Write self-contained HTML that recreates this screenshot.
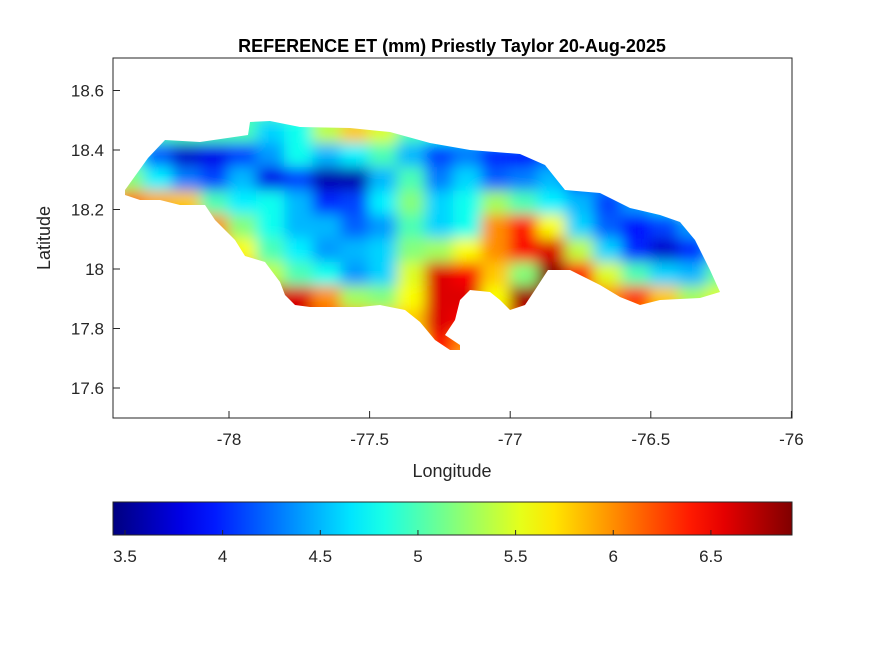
<!DOCTYPE html>
<html><head><meta charset="utf-8"><style>
body{margin:0;background:#fff;}
svg{display:block;font-family:"Liberation Sans",sans-serif;}
</style></head><body>
<svg id="chart" width="875" height="656" viewBox="0 0 875 656">
<defs>
<clipPath id="island"><polygon id="islandPoly" points="125,190 148,158 165,140 200,142 248,135 250,122 270,121 300,127 350,128 390,132 430,143 470,150 520,154 545,165 565,190 600,193 630,208 660,215 680,222 695,240 710,270 720,292 700,298 660,300 640,305 620,297 600,285 570,270 548,270 535,290 525,305 510,310 500,300 490,292 470,290 460,300 455,320 445,335 460,345 460,350 450,350 435,340 420,322 405,310 380,305 360,307 310,307 295,305 285,295 280,282 265,262 245,256 235,240 215,220 205,205 180,205 160,200 140,200 125,195"/></clipPath>
<filter id="blur" x="-10%" y="-10%" width="120%" height="120%"><feGaussianBlur stdDeviation="7"/></filter>
<linearGradient id="jet" x1="0" x2="1" y1="0" y2="0"></linearGradient>
</defs>
<rect x="0" y="0" width="875" height="656" fill="#fff"/>
<text x="452" y="52" text-anchor="middle" font-size="18" font-weight="bold" fill="#000">REFERENCE ET (mm) Priestly Taylor 20-Aug-2025</text>
<g clip-path="url(#island)"><g id="cells" filter="url(#blur)"></g></g>
<rect x="113" y="58" width="679" height="360" fill="none" stroke="#262626" stroke-width="1"/>
<g id="axes"></g>
<text x="452" y="477" text-anchor="middle" font-size="18" fill="#262626">Longitude</text>
<text transform="translate(50,238) rotate(-90)" text-anchor="middle" font-size="18" fill="#262626">Latitude</text>
<rect x="113" y="502" width="679" height="33" fill="url(#jet)" stroke="#262626" stroke-width="1"/>
<g id="cbaxis"></g>
</svg>
<script>
const lonTicks=[-78,-77.5,-77,-76.5,-76];
const latTicks=[18.6,18.4,18.2,18,17.8,17.6];
const cbTicks=[3.5,4,4.5,5,5.5,6,6.5];
const gridLon0=-78.4, gridLonStep=0.1;
const gridLat0=18.54, gridLatStep=-0.08;
const row0=[5,5,5,5,5,5,5,5,5,5,5,5,5,5,5,5,5,5,5,5,5,5];
const row1=[5,5,5,5,5,4.6,4.8,5.4,5.8,5.5,5,4.8,4.6,4.6,4.8,5,5,5,5,5,5,5];
const row2=[4.8,4.2,3.7,3.8,4.1,4.4,4.8,4.5,4.7,5.0,4.5,4.1,4.3,4.0,3.9,4.2,4.5,5,5,5,5,5];
const row3=[5.2,4.7,4.3,4.1,4.5,3.8,4.1,3.6,3.6,4.5,5.0,4.3,4.6,4.2,4.3,4.5,4.1,4.4,4.7,5,5,5];
const row4=[6.1,5.9,5.8,5.0,4.7,4.8,4.5,4.0,4.1,4.7,5.2,4.6,4.8,5.3,5.0,4.7,4.5,4.1,4.4,4.6,5,5];
const row5=[6,6,6,6.0,5.2,4.8,4.5,4.5,4.2,4.4,5.0,4.6,4.8,6.0,6.4,5.6,4.6,4.2,3.9,4.1,4.4,5];
const row6=[6,6,6,6.2,5.6,5.0,4.7,4.4,4.5,4.6,5.2,5.3,5.6,6.0,6.5,6.6,5.4,4.6,4.0,3.7,4.0,4.5];
const row7=[6,6,6,6,6,5.4,5.0,4.8,4.4,4.6,5.5,6.6,6.5,5.8,5.2,6.9,6.4,5.5,5.0,4.6,4.5,5.1];
const row8=[6,6,6,6,6,6.7,6.6,6.0,5.3,5.2,5.6,6.6,6.6,5.6,6.8,6.9,6.3,6.0,6.3,5.8,5.3,5.5];
const row9=[6,6,6,6,6,6.7,6.7,6.3,6.0,5.8,5.8,6.6,6.5,5.8,6.6,6.6,6,6,6,6,6,6];
const row10=[6,6,6,6,6,6,6,6,6,6,5.6,6.4,6,6,6,6,6,6,6,6,6,6];
const rows=[row0,row1,row2,row3,row4,row5,row6,row7,row8,row9,row10];
const NS='http://www.w3.org/2000/svg';
const xS=lon=>229+(lon+78)*281.2;
const yS=lat=>269-(lat-18)*297.5;
const cMin=3.44,cMax=6.92;
const cS=v=>125+(v-3.5)*195.3;
function jet(t){t=Math.max(0,Math.min(1,t));
 const r=Math.max(0,Math.min(1,1.5-Math.abs(4*t-3)));
 const g=Math.max(0,Math.min(1,1.5-Math.abs(4*t-2)));
 const b=Math.max(0,Math.min(1,1.5-Math.abs(4*t-1)));
 return `rgb(${Math.round(r*255)},${Math.round(g*255)},${Math.round(b*255)})`;}
const cells=document.getElementById('cells');
const cw=gridLonStep*281.2, ch=Math.abs(gridLatStep)*297.5;
rows.forEach((row,ri)=>row.forEach((v,ci)=>{
 const r=document.createElementNS(NS,'rect');
 const cx=xS(gridLon0+gridLonStep*ci+gridLonStep/2), cy=yS(gridLat0+gridLatStep*ri);
 r.setAttribute('x',cx-cw/2-1);r.setAttribute('y',cy-ch/2-1);
 r.setAttribute('width',cw+2);r.setAttribute('height',ch+2);
 r.setAttribute('fill',jet((v-cMin)/(cMax-cMin)));
 
 
 cells.appendChild(r);}));
const axes=document.getElementById('axes');
function add(tag,attrs,txt){const e=document.createElementNS(NS,tag);for(const k in attrs)e.setAttribute(k,attrs[k]);if(txt!==undefined)e.textContent=txt;return e;}
lonTicks.forEach(t=>{const x=xS(t);
 const l=add('line',{x1:x,x2:x,y1:418,y2:411,stroke:'#262626'});
 
 
 axes.appendChild(l);
 const tx=add('text',{x:x,y:445,'text-anchor':'middle','font-size':17,fill:'#262626'},String(t));
 
 
 axes.appendChild(tx);});
latTicks.forEach(t=>{const y=yS(t);
 const l=add('line',{x1:113,x2:120,y1:y,y2:y,stroke:'#262626'});
 
 
 axes.appendChild(l);
 const tx=add('text',{x:104,y:y+6,'text-anchor':'end','font-size':17,fill:'#262626'},String(t));
 
 
 axes.appendChild(tx);});
const grad=document.getElementById('jet');
for(let i=0;i<=20;i++){const s=add('stop',{offset:(i/20),'stop-color':jet(i/20)});grad.appendChild(s);}
const cb=document.getElementById('cbaxis');
cbTicks.forEach(t=>{const x=cS(t);
 const l=add('line',{x1:x,x2:x,y1:535,y2:530,stroke:'#262626'});
 
 
 cb.appendChild(l);
 const tx=add('text',{x:x,y:562,'text-anchor':'middle','font-size':17,fill:'#262626'},String(t));
 
 
 cb.appendChild(tx);});
</script>
</body></html>
